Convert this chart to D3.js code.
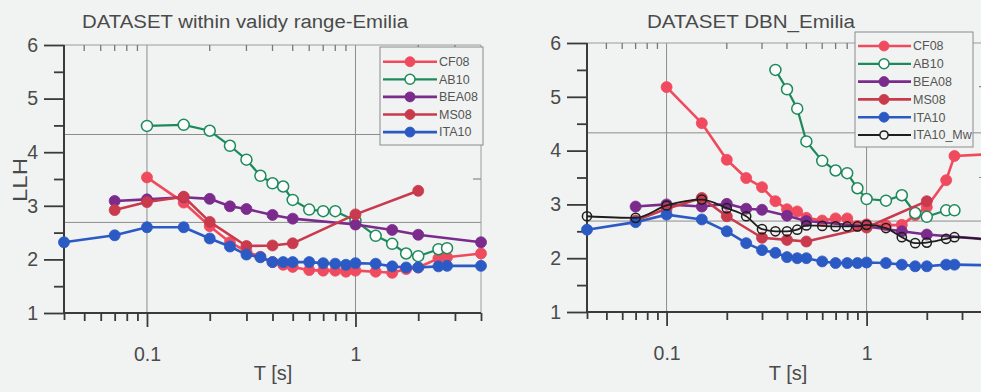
<!DOCTYPE html>
<html><head><meta charset="utf-8">
<script src="https://cdn.jsdelivr.net/npm/d3@7"></script>
<style>
body{margin:0;background:#f1f3f2}
svg{display:block;font-family:"Liberation Sans",Arial,sans-serif}
</style>
</head><body>
<svg id="c" width="981" height="392"></svg>
<script>
// ---------- DATA ----------
const titleLeft = "DATASET within validy range-Emilia";
const titleRight = "DATASET DBN_Emilia";
const yLabel = "LLH";
const xLabel = "T [s]";
const xMajorTicks = [0.1, 1];
const xMinorTicks = [0.04,0.05,0.06,0.07,0.08,0.09,0.2,0.3,0.4,0.5,0.6,0.7,0.8,0.9,2,3,4];
const xTopTicks = [0.05,0.06,0.07,0.08,0.09,0.2,0.3,0.4,0.5,0.6,0.7,0.8,0.9,2,3];
const yMajorTicks = [1,2,3,4,5,6];
const yMinorTicks = [1.5,2.5,3.5,4.5,5.5];
const refLines = [4.33, 2.69];
const rightEdgeTicks = [5.19, 3.5];

const periodsFull = [0.04,0.07,0.1,0.15,0.2,0.25,0.3,0.35,0.4,0.45,0.5,0.6,0.7,0.8,0.9,1,1.25,1.5,1.75,2,2.5,2.75,4];

// Left panel
const cf08L_T = [0.1,0.15,0.2,0.25,0.3,0.35,0.4,0.45,0.5,0.6,0.7,0.8,0.9,1,1.25,1.5,1.75,2,2.5,2.75,4];
const cf08L_V = [3.53,3.06,2.62,2.32,2.15,2.05,1.95,1.90,1.86,1.80,1.79,1.79,1.77,1.79,1.77,1.75,1.82,1.85,2.02,2.04,2.11];
const ab10L_T = [0.1,0.15,0.2,0.25,0.3,0.35,0.4,0.45,0.5,0.6,0.7,0.8,1,1.25,1.5,1.75,2,2.5,2.75];
const ab10L_V = [4.49,4.51,4.40,4.12,3.86,3.56,3.42,3.36,3.11,2.93,2.90,2.90,2.72,2.44,2.29,2.11,2.06,2.19,2.21];
const bea08L_T = [0.07,0.1,0.15,0.2,0.25,0.3,0.4,0.5,1,1.5,2,4];
const bea08L_V = [3.09,3.12,3.16,3.13,2.99,2.94,2.83,2.76,2.65,2.55,2.46,2.32];
const ms08L_T = [0.07,0.1,0.15,0.2,0.3,0.4,0.5,1,2];
const ms08L_V = [2.92,3.07,3.17,2.70,2.25,2.26,2.30,2.84,3.28];
const ita10L_V = [2.32,2.45,2.60,2.60,2.39,2.24,2.09,2.04,1.95,1.95,1.95,1.95,1.93,1.92,1.90,1.93,1.92,1.87,1.85,1.85,1.87,1.88,1.88];

// Right panel
const cf08R_T = [0.1,0.15,0.2,0.25,0.3,0.35,0.4,0.45,0.5,0.6,0.7,0.8,0.9,1,1.25,1.5,1.75,2,2.5,2.75,4];
const cf08R_V = [5.18,4.51,3.83,3.49,3.32,3.06,2.91,2.87,2.75,2.70,2.74,2.74,2.60,2.63,2.61,2.62,2.80,2.95,3.45,3.90,3.93];
const ab10R_T = [0.35,0.4,0.45,0.5,0.6,0.7,0.8,0.9,1,1.25,1.5,1.75,2,2.5,2.75];
const ab10R_V = [5.50,5.14,4.78,4.17,3.81,3.63,3.58,3.30,3.10,3.07,3.17,2.84,2.77,2.89,2.89];
const bea08R_T = [0.07,0.1,0.15,0.2,0.25,0.3,0.4,0.5,1,1.5,2,4];
const bea08R_V = [2.96,3.00,2.96,3.01,2.92,2.90,2.79,2.69,2.59,2.50,2.44,2.35];
const ms08R_T = [0.07,0.1,0.15,0.2,0.3,0.4,0.5,1,2];
const ms08R_V = [2.70,2.92,3.12,2.78,2.38,2.34,2.31,2.57,3.06];
const ita10R_V = [2.53,2.67,2.81,2.72,2.50,2.28,2.15,2.10,2.02,2.00,2.00,1.94,1.91,1.91,1.91,1.92,1.91,1.88,1.85,1.85,1.88,1.88,1.87];
const ita10MwR_V = [2.78,2.75,2.98,3.09,2.93,2.78,2.54,2.50,2.50,2.53,2.61,2.60,2.59,2.59,2.59,2.62,2.56,2.39,2.28,2.29,2.36,2.39,2.35];

// ---------- STYLES ----------
const BG = "#f1f3f2";
const TXT = "#4a4a4a";
const styles = {
  CF08:   {color:"#f04a5e", fill:"#f04a5e", r:5.5, w:2.6},
  AB10:   {color:"#1d8a5c", fill:"#fbfcfb", r:5.5, w:2.2, open:true},
  BEA08:  {color:"#7a2b8c", fill:"#7a2b8c", r:5.5, w:2.6},
  MS08:   {color:"#c83a4c", fill:"#c83a4c", r:5.5, w:2.6},
  ITA10:  {color:"#2b5ac4", fill:"#2b5ac4", r:5.5, w:2.6},
  ITA10_Mw:{color:"#1e1e1e", fill:"none", r:4.6, w:1.8, open:true, smooth:true}
};

const zip = (T,V) => T.map((t,i)=>({t, v:V[i]}));

const panels = [
  {
    title: titleLeft, titleX: 245, titleW: 326, xr:[64,481], yr:[313,45], ylab:true, xlabX:273,
    series: [
      ["CF08", zip(cf08L_T, cf08L_V)],
      ["AB10", zip(ab10L_T, ab10L_V)],
      ["BEA08", zip(bea08L_T, bea08L_V)],
      ["MS08", zip(ms08L_T, ms08L_V)],
      ["ITA10", zip(periodsFull, ita10L_V)]
    ],
    legend:{x:380, y:47, w:103, h:98, row0:61.7, dy:17.6, lx0:383, lx1:437, mx:410, tx:439}
  },
  {
    title: titleRight, titleX: 751, titleW: 208, xr:[587,987], yr:[312,43], ylab:false, xlabX:788,
    series: [
      ["CF08", zip(cf08R_T, cf08R_V)],
      ["AB10", zip(ab10R_T, ab10R_V)],
      ["BEA08", zip(bea08R_T, bea08R_V)],
      ["MS08", zip(ms08R_T, ms08R_V)],
      ["ITA10", zip(periodsFull, ita10R_V)],
      ["ITA10_Mw", zip(periodsFull, ita10MwR_V)]
    ],
    legend:{x:855, y:32, w:118, h:115, row0:46, dy:17.8, lx0:858, lx1:911, mx:884, tx:913}
  }
];

const svg = d3.select("#c");
svg.append("rect").attr("width",981).attr("height",392).attr("fill",BG);

panels.forEach(p => {
  const x = d3.scaleLog().domain([0.04,4]).range(p.xr);
  const y = d3.scaleLinear().domain([1,6]).range(p.yr);
  const g = svg.append("g");
  const [x0,x1] = p.xr, [yb,yt] = p.yr;

  // title
  g.append("text").attr("x",p.titleX).attr("y",28).attr("text-anchor","middle")
    .attr("font-size",18).attr("fill",TXT)
    .attr("textLength",p.titleW).attr("lengthAdjust","spacingAndGlyphs").text(p.title);

  // grid lines
  g.selectAll(".gv").data(xMajorTicks).join("line")
    .attr("x1",d=>x(d)).attr("x2",d=>x(d)).attr("y1",yb).attr("y2",yt)
    .attr("stroke","#8c8c8c").attr("stroke-width",1);
  g.selectAll(".gh").data(refLines).join("line")
    .attr("x1",x0).attr("x2",x1).attr("y1",d=>y(d)).attr("y2",d=>y(d))
    .attr("stroke","#8c8c8c").attr("stroke-width",1);

  // top & right border
  g.append("line").attr("x1",x0).attr("x2",x1).attr("y1",yt).attr("y2",yt)
    .attr("stroke","#9a9a9a").attr("stroke-width",1);
  g.append("line").attr("x1",x1).attr("x2",x1).attr("y1",yt).attr("y2",yb)
    .attr("stroke","#9a9a9a").attr("stroke-width",1);
  g.selectAll(".tt").data(xTopTicks).join("line")
    .attr("x1",d=>x(d)).attr("x2",d=>x(d)).attr("y1",yt).attr("y2",yt+6)
    .attr("stroke","#777").attr("stroke-width",1.3);
  g.selectAll(".rt").data(rightEdgeTicks).join("line")
    .attr("x1",x1-8).attr("x2",x1).attr("y1",d=>y(d)).attr("y2",d=>y(d))
    .attr("stroke","#888").attr("stroke-width",1.2);

  // x axis
  const xAxis = d3.axisBottom(x)
    .tickValues(xMinorTicks.concat(xMajorTicks))
    .tickFormat(d => xMajorTicks.includes(d) ? d3.format("~g")(d) : "")
    .tickSizeInner(8).tickSizeOuter(0).tickPadding(26);
  const gx = g.append("g").attr("transform",`translate(0,${yb})`).call(xAxis);
  gx.select(".domain").remove();
  gx.selectAll(".tick line").attr("stroke","#3a3a3a").attr("stroke-width",1.8)
    .attr("y2", d => xMajorTicks.includes(d) ? 14 : (d===0.04 ? 7 : 8));
  gx.selectAll(".tick text").attr("font-size",19.5).attr("fill",TXT)
    .attr("font-family","Liberation Sans, Arial, sans-serif");

  // y axis
  const yAxis = d3.axisLeft(y)
    .tickValues(yMajorTicks.concat(yMinorTicks))
    .tickFormat(d => yMajorTicks.includes(d) ? d : "")
    .tickSizeInner(20).tickSizeOuter(0).tickPadding(6);
  const gy = g.append("g").attr("transform",`translate(${x0},0)`).call(yAxis);
  gy.select(".domain").remove();
  gy.selectAll(".tick line").attr("stroke","#3a3a3a").attr("stroke-width",1.8)
    .attr("x2", d => yMajorTicks.includes(d) ? -20 : -10);
  gy.selectAll(".tick text").attr("font-size",19.5).attr("fill",TXT)
    .attr("font-family","Liberation Sans, Arial, sans-serif");

  // axis lines
  g.append("line").attr("x1",x0).attr("x2",x1).attr("y1",yb).attr("y2",yb)
    .attr("stroke","#3a3a3a").attr("stroke-width",2);
  g.append("line").attr("x1",x0).attr("x2",x0).attr("y1",yt).attr("y2",yb+1)
    .attr("stroke","#3a3a3a").attr("stroke-width",2);

  // axis labels
  g.append("text").attr("x",p.xlabX).attr("y",380).attr("text-anchor","middle")
    .attr("font-size",20).attr("fill",TXT).text(xLabel);
  if (p.ylab) {
    g.append("text").attr("transform","translate(27,180) rotate(-90)")
      .attr("text-anchor","middle").attr("font-size",20).attr("fill",TXT)
      .attr("textLength",44).attr("lengthAdjust","spacingAndGlyphs").text(yLabel);
  }

  // series
  p.series.forEach(([name, data]) => {
    const s = styles[name];
    const line = d3.line().x(d=>x(d.t)).y(d=>y(d.v))
      .curve(s.smooth ? d3.curveMonotoneX : d3.curveLinear);
    g.append("path").datum(data).attr("d",line).attr("fill","none")
      .attr("stroke",s.color).attr("stroke-width",s.w).attr("stroke-linejoin","round");
    g.selectAll(null).data(data).join("circle")
      .attr("cx",d=>x(d.t)).attr("cy",d=>y(d.v)).attr("r",s.r)
      .attr("fill", s.open ? (name==="AB10" ? "#fbfcfb" : "none") : s.fill)
      .attr("stroke", s.color).attr("stroke-width", s.open ? 1.5 : 0.8);
  });

  // legend
  const L = p.legend;
  const lg = g.append("g");
  lg.append("rect").attr("x",L.x).attr("y",L.y).attr("width",L.w).attr("height",L.h)
    .attr("fill",BG).attr("stroke","#8a8a8a").attr("stroke-width",1);
  p.series.forEach(([name], i) => {
    const s = styles[name];
    const yy = L.row0 + i*L.dy;
    lg.append("line").attr("x1",L.lx0).attr("x2",L.lx1).attr("y1",yy).attr("y2",yy)
      .attr("stroke",s.color).attr("stroke-width",s.w);
    lg.append("circle").attr("cx",L.mx).attr("cy",yy).attr("r",s.r-0.5)
      .attr("fill", s.open ? (name==="AB10" ? "#fbfcfb" : BG) : s.fill)
      .attr("stroke",s.color).attr("stroke-width", s.open ? 1.5 : 0.8);
    lg.append("text").attr("x",L.tx).attr("y",yy+4.3).attr("font-size",12.5)
      .attr("fill","#555").text(name);
  });
});
</script>
</body></html>
